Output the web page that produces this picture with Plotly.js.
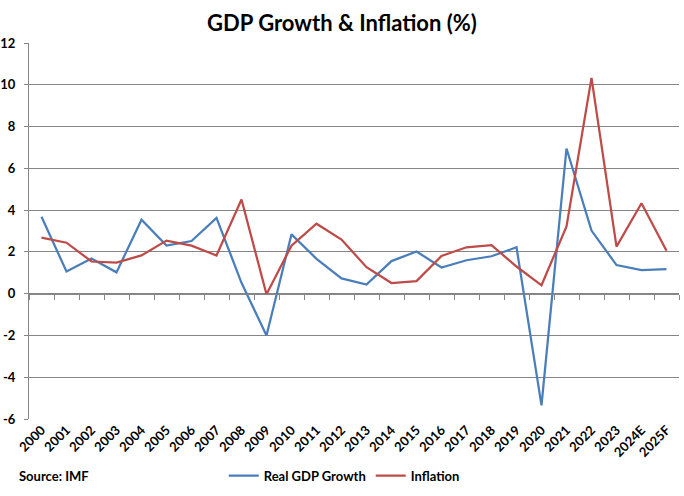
<!DOCTYPE html>
<html>
<head>
<meta charset="utf-8">
<script src="https://cdn.plot.ly/plotly-3.0.1.min.js"></script>
<style>
  html, body { margin: 0; padding: 0; background: #fff; }
  #chart { width: 684px; height: 496px; outline: 1px solid #8c8c8c; outline-offset: -1px; }
</style>
</head>
<body>
<div id="chart"></div>
<script>
// Annual figures, percent
const years = ['2000','2001','2002','2003','2004','2005','2006','2007','2008','2009','2010','2011','2012',
               '2013','2014','2015','2016','2017','2018','2019','2020','2021','2022','2023','2024E','2025F'];
const realGdpGrowth = [3.68, 1.06, 1.68, 1.02, 3.54, 2.30, 2.52, 3.63, 0.52, -2.00, 2.84, 1.67, 0.73,
                       0.44, 1.56, 2.02, 1.25, 1.60, 1.79, 2.22, -5.35, 6.95, 3.02, 1.37, 1.13, 1.17];
const inflation = [2.68, 2.44, 1.54, 1.49, 1.83, 2.54, 2.30, 1.83, 4.51, -0.03, 2.30, 3.35, 2.59,
                   1.27, 0.51, 0.60, 1.81, 2.22, 2.32, 1.30, 0.40, 3.22, 10.33, 2.25, 4.33, 2.05];
const yTickVals = [-6, -4, -2, 0, 2, 4, 6, 8, 10, 12];
const yTickLabels = ['-6', '-4', '-2', '0', '2', '4', '6', '8', '10', '12'];

const FONT = 'Lato, "Open Sans", sans-serif';
const GRID = '#868686';

const traces = [
  {
    x: years, y: realGdpGrowth, name: 'Real GDP Growth', type: 'scatter', mode: 'lines',
    line: { color: '#4a7ebb', width: 2.25 }, xaxis: 'x', yaxis: 'y'
  },
  {
    x: years, y: inflation, name: 'Inflation', type: 'scatter', mode: 'lines',
    line: { color: '#be4b48', width: 2.25 }, xaxis: 'x', yaxis: 'y'
  },
  // carries the categories for the axis drawn along zero
  {
    x: years, y: realGdpGrowth, type: 'scatter', mode: 'lines', opacity: 0,
    showlegend: false, hoverinfo: 'skip', xaxis: 'x2', yaxis: 'y'
  }
];

const layout = {
  width: 684, height: 496,
  margin: { l: 29, r: 5, t: 43, b: 75 },
  paper_bgcolor: '#fff', plot_bgcolor: '#fff',
  font: { family: FONT, size: 13, color: '#000', weight: 'bold' },
  title: {
    text: 'GDP Growth &amp; Inflation (%)',
    font: { family: FONT, size: 22, weight: 'bold', color: '#000' },
    x: 0.5, xanchor: 'center', y: 0.954, yanchor: 'middle'
  },
  xaxis: {
    type: 'category', categoryorder: 'array', categoryarray: years,
    range: [-0.5, years.length - 0.5],
    showgrid: false, zeroline: false, showline: false, ticks: '',
    tickangle: -45, tickfont: { family: FONT, size: 13, weight: 'bold' }
  },
  xaxis2: {
    type: 'category', categoryorder: 'array', categoryarray: years,
    range: [-0.5, years.length - 0.5],
    overlaying: 'x', anchor: 'free', position: 6 / 18,
    showgrid: false, zeroline: false, showline: true, linecolor: GRID, linewidth: 1,
    ticks: 'outside', tickson: 'boundaries', ticklen: 5, tickcolor: GRID, tickwidth: 1,
    showticklabels: false
  },
  yaxis: {
    range: [-6, 12], tickvals: yTickVals, ticktext: yTickLabels,
    showgrid: true, gridcolor: GRID, gridwidth: 1, zeroline: false,
    showline: true, linecolor: GRID, linewidth: 1,
    ticks: 'outside', ticklen: 4, tickcolor: GRID, ticklabelstandoff: 6,
    tickfont: { family: FONT, size: 13, weight: 'bold' }
  },
  legend: {
    orientation: 'h', x: 0.485, xanchor: 'center', y: -0.151, yanchor: 'middle',
    font: { family: FONT, size: 13, weight: 'bold' }, bgcolor: 'rgba(0,0,0,0)'
  },
  annotations: [
    {
      text: 'Source: IMF', xref: 'paper', yref: 'paper', x: -0.0185, y: -0.151,
      xanchor: 'left', yanchor: 'middle', showarrow: false,
      font: { family: FONT, size: 13, weight: 'bold', color: '#000' }
    }
  ],
  showlegend: true
};

Plotly.newPlot('chart', traces, layout, { displayModeBar: false, staticPlot: true });
</script>
</body>
</html>
